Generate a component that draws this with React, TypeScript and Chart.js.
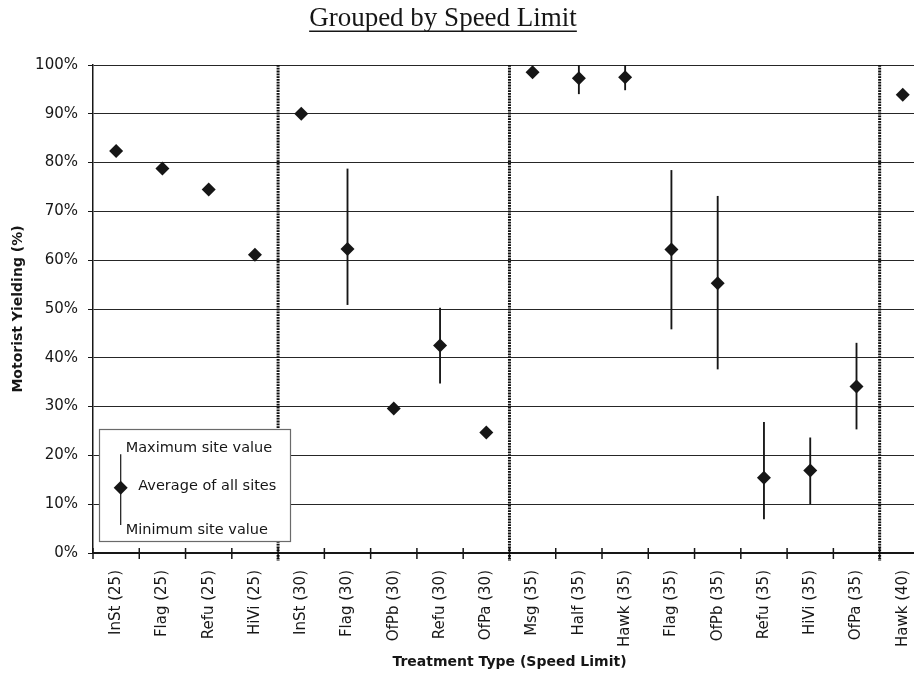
import React, { useEffect, useRef } from 'react';
import { Chart, registerables } from 'chart.js';

Chart.register(...registerables);

const categories = [
  'InSt (25)', 'Flag (25)', 'Refu (25)', 'HiVi (25)',
  'InSt (30)', 'Flag (30)', 'OfPb (30)', 'Refu (30)', 'OfPa (30)',
  'Msg (35)', 'Half (35)', 'Hawk (35)', 'Flag (35)', 'OfPb (35)', 'Refu (35)', 'HiVi (35)', 'OfPa (35)',
  'Hawk (40)',
];
const averages = [82.4, 78.8, 74.5, 61.1, 90.0, 62.3, 29.6, 42.5, 24.7, 98.5, 97.3, 97.5, 62.2, 55.3, 15.4, 16.9, 34.1, 93.9];
const maxima: (number | null)[] = [null, null, null, null, null, 78.7, null, 50.2, null, null, 100, 100, 78.4, 73.1, 26.8, 23.6, 43.0, null];
const minima: (number | null)[] = [null, null, null, null, null, 50.9, null, 34.8, null, null, 94.1, 94.9, 45.9, 37.7, 7.0, 10.1, 25.4, null];
const groupEnds = [3, 8, 16];

const TITLE = 'Grouped by Speed Limit';
const X_TITLE = 'Treatment Type (Speed Limit)';
const Y_TITLE = 'Motorist Yielding (%)';
const legendLabels = ['Maximum site value', 'Average of all sites', 'Minimum site value'];

const INK = '#161616';
const FONT = '"DejaVu Sans", "Liberation Sans", sans-serif';

export default function App() {
  const ref = useRef<HTMLCanvasElement>(null);

  useEffect(() => {
    const prevBody = document.body.style.overflow;
    const prevHtml = document.documentElement.style.overflow;
    document.body.style.overflow = 'hidden';
    document.documentElement.style.overflow = 'hidden';

    const ranges = categories.map((_, i) =>
      maxima[i] == null || minima[i] == null ? null : [minima[i] as number, maxima[i] as number]
    );

    const decor = {
      id: 'decor',
      afterDraw(chart: any) {
        const { ctx, chartArea: a, scales } = chart;
        const xs = scales.x;
        const step = xs.getPixelForValue(1) - xs.getPixelForValue(0);
        const boundary = (i: number) => xs.getPixelForValue(i) + step / 2;
        ctx.save();

        // tick marks crossing the category axis
        ctx.strokeStyle = INK;
        ctx.lineWidth = 1.5;
        for (let i = -1; i < categories.length; i++) {
          const x = boundary(i);
          if (x > a.right + 1) continue;
          ctx.beginPath();
          ctx.moveTo(x, a.bottom - 5);
          ctx.lineTo(x, a.bottom + 6);
          ctx.stroke();
        }

        // dotted group separators
        ctx.lineWidth = 3;
        ctx.setLineDash([1.8, 1.0]);
        ctx.strokeStyle = '#0d0d0d';
        for (const g of groupEnds) {
          const x = boundary(g);
          ctx.beginPath();
          ctx.moveTo(x, a.top);
          ctx.lineTo(x, a.bottom + 8);
          ctx.stroke();
        }
        ctx.setLineDash([]);

        // legend box
        const bx = a.left + 6.5;
        const by = a.bottom - 123.5;
        ctx.fillStyle = '#ffffff';
        ctx.fillRect(bx, by, 191, 112);
        ctx.strokeStyle = '#6a6a6a';
        ctx.lineWidth = 1.2;
        ctx.strokeRect(bx, by, 191, 112);

        const lx = bx + 21.2;
        ctx.strokeStyle = INK;
        ctx.lineWidth = 1.2;
        ctx.beginPath();
        ctx.moveTo(lx, by + 24.8);
        ctx.lineTo(lx, by + 95.5);
        ctx.stroke();
        const dy = by + 58.2;
        const r = 7;
        ctx.fillStyle = INK;
        ctx.beginPath();
        ctx.moveTo(lx - r, dy);
        ctx.lineTo(lx, dy - r);
        ctx.lineTo(lx + r, dy);
        ctx.lineTo(lx, dy + r);
        ctx.closePath();
        ctx.fill();

        ctx.font = `14.5px ${FONT}`;
        ctx.textAlign = 'left';
        ctx.textBaseline = 'middle';
        ctx.fillText(legendLabels[0], bx + 26.2, by + 18.8);
        ctx.fillText(legendLabels[1], bx + 38.8, by + 56.5);
        ctx.fillText(legendLabels[2], bx + 26.2, by + 100.5);

        // chart title, underlined
        ctx.font = '27px "Liberation Serif", "DejaVu Serif", serif';
        ctx.textAlign = 'center';
        ctx.textBaseline = 'alphabetic';
        const cx = 435;
        ctx.fillText(TITLE, cx, 18);
        const w = ctx.measureText(TITLE).width;
        ctx.fillRect(cx - w / 2, 22.5, w, 1.5);

        ctx.restore();
      },
    };

    const chart = new Chart(ref.current as HTMLCanvasElement, {
      type: 'bar',
      data: {
        labels: categories,
        datasets: [
          {
            type: 'line',
            data: averages,
            showLine: false,
            pointStyle: 'rectRot',
            pointRadius: 7,
            pointHoverRadius: 7,
            pointBackgroundColor: INK,
            pointBorderWidth: 0,
            order: 0,
          } as any,
          {
            type: 'bar',
            data: ranges as any,
            backgroundColor: INK,
            barThickness: 1.2,
            grouped: false,
            order: 1,
          } as any,
        ],
      },
      options: {
        responsive: false,
        animation: false,
        devicePixelRatio: 1,
        layout: { padding: { top: 57, right: 8, left: 0, bottom: 0 } },
        plugins: { legend: { display: false }, tooltip: { enabled: false }, title: { display: false } },
        scales: {
          x: {
            type: 'category',
            offset: true,
            grid: { display: true, offset: true, drawOnChartArea: false, drawTicks: false },
            border: { display: true, color: INK, width: 2 },
            ticks: {
              autoSkip: false,
              maxRotation: 90,
              minRotation: 90,
              padding: 17,
              color: INK,
              font: { family: FONT, size: 15 },
            },
            title: {
              display: true,
              text: X_TITLE,
              color: INK,
              font: { family: FONT, size: 14, weight: 'bold' },
              padding: { top: 0, bottom: 6.6 },
            },
            afterFit: (s: any) => { s.height = 124; },
          },
          y: {
            min: 0,
            max: 100,
            ticks: {
              stepSize: 10,
              padding: 10,
              color: INK,
              font: { family: FONT, size: 15 },
              callback: (v: any) => `${v}%`,
            },
            grid: { color: '#262626', lineWidth: 1, drawTicks: true, tickLength: 5, tickColor: INK },
            border: { display: true, color: INK, width: 1.5 },
            title: {
              display: true,
              text: Y_TITLE,
              color: INK,
              font: { family: FONT, size: 14, weight: 'bold' },
              padding: { top: 2, bottom: 0 },
            },
            afterFit: (s: any) => { s.width = 85; },
          },
        },
      },
      plugins: [decor],
    });

    return () => {
      chart.destroy();
      document.body.style.overflow = prevBody;
      document.documentElement.style.overflow = prevHtml;
    };
  }, []);

  return (
    <div style={{ width: 930, height: 669 }}>
      <canvas ref={ref} width={930} height={669} style={{ display: 'block' }} />
    </div>
  );
}
